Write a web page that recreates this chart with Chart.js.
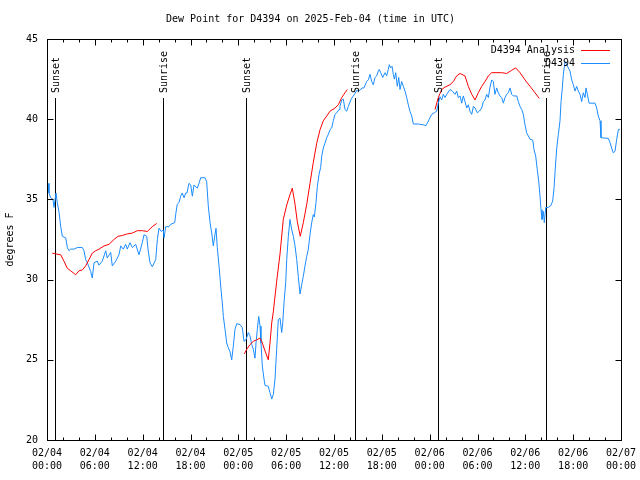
<!DOCTYPE html>
<html><head><meta charset="utf-8">
<script src="https://cdn.jsdelivr.net/npm/chart.js@4/dist/chart.umd.min.js"></script>
<style>html,body{margin:0;padding:0;background:#fff}</style>
</head><body>
<canvas id="c" width="640" height="480"></canvas>
<script>
// hours since 2025-02-04 00:00 UTC
const blueHours = [
0.13,0.25,0.46,0.75,0.88,1.13,1.29,1.51,1.72,1.92,
2.35,2.55,2.76,2.97,3.39,3.80,4.43,4.64,4.85,5.06,
5.48,5.68,5.90,6.31,6.52,6.94,7.36,7.56,7.99,8.19,
8.62,9.03,9.25,9.57,9.87,10.07,10.41,10.70,11.13,11.54,
11.95,12.17,12.51,12.67,12.92,13.21,13.64,13.84,14.05,14.34,
14.59,14.68,14.89,15.30,15.52,16.02,16.14,16.34,16.56,16.77,
16.97,17.19,17.40,17.56,17.81,18.03,18.23,18.44,18.85,19.07,
19.28,19.82,20.03,20.23,20.45,20.66,20.86,21.07,21.20,21.36,
21.58,21.79,21.99,22.12,22.33,22.54,22.74,22.96,23.17,23.37,
23.58,23.80,24.21,24.50,24.71,24.96,25.25,25.46,25.68,25.88,
26.09,26.22,26.38,26.56,26.72,26.84,27.01,27.22,27.35,27.76,
27.97,28.19,28.39,28.60,28.81,29.01,29.23,29.44,29.57,29.73,
29.94,30.07,30.27,30.48,30.70,30.90,31.11,31.32,31.52,31.74,
31.95,32.15,32.36,32.58,32.78,32.99,33.20,33.40,33.53,33.74,
33.91,34.12,34.33,34.46,34.66,34.87,35.09,35.29,35.50,35.71,
35.91,36.13,36.34,36.63,36.75,36.97,37.17,37.38,37.59,37.80,
38.10,38.35,38.63,38.85,39.26,39.51,39.76,40.10,40.30,40.52,
40.73,40.93,41.14,41.36,41.56,41.68,41.86,42.11,42.40,42.61,
42.81,42.94,43.11,43.28,43.44,43.57,43.74,43.94,44.12,44.28,
44.49,44.69,44.91,45.12,45.32,45.53,45.75,45.95,46.58,47.20,
47.54,47.70,47.95,48.26,48.58,48.88,49.08,49.30,49.51,49.71,
49.92,50.14,50.55,50.84,51.18,51.39,51.59,51.81,52.02,52.22,
52.43,52.65,52.85,53.06,53.28,53.48,53.69,53.98,54.23,54.53,
54.73,54.94,55.15,55.36,55.57,55.78,55.98,56.19,56.41,56.61,
56.82,57.04,57.24,57.45,57.66,57.86,58.08,58.29,58.49,58.92,
59.12,59.33,59.55,59.75,59.96,60.17,60.38,60.59,60.93,61.09,
61.30,61.50,61.68,61.84,61.97,62.09,62.26,62.38,62.56,62.88,
63.18,63.43,63.60,63.76,63.94,64.14,64.35,64.48,64.64,64.77,
64.98,65.19,65.39,65.60,65.82,66.02,66.23,66.44,66.64,66.86,
67.07,67.27,67.49,67.61,67.78,67.99,68.74,68.95,69.15,69.37,
69.49,70.41,70.62,70.83,71.03,71.25,71.46,71.67,71.88
];
const blueValues = [
36.0,35.4,35.1,35.0,34.5,35.4,34.8,34.2,33.3,32.7,
32.6,32.0,31.8,31.9,31.9,32.0,32.0,31.8,31.25,31.05,
30.5,30.1,31.05,31.15,30.9,31.15,31.8,31.35,31.7,30.85,
31.15,31.55,32.1,31.9,32.2,31.9,32.3,32.0,32.2,31.55,
32.3,32.8,32.7,31.9,31.05,30.8,31.25,32.5,33.2,33.0,
33.1,32.6,33.3,33.3,33.45,33.55,34.05,34.7,34.8,35.2,
35.4,35.1,35.4,35.4,36.0,35.9,35.2,35.9,35.7,36.0,
36.35,36.35,36.1,34.6,33.55,32.9,32.1,32.8,33.2,32.0,
30.85,29.6,28.55,27.7,26.9,26.05,25.75,25.5,25.0,25.85,
26.9,27.25,27.2,27.0,26.15,26.25,26.7,26.5,25.95,25.65,
25.1,26.05,26.9,27.7,27.1,26.05,24.6,23.8,23.4,23.35,
22.95,22.55,22.85,23.8,25.65,27.5,27.6,26.7,27.3,28.55,
29.8,31.25,32.7,33.75,33.1,32.7,32.1,31.25,30.2,29.1,
29.7,30.2,30.85,31.45,31.9,32.8,33.55,34.05,33.9,34.8,
35.8,36.55,37.0,37.7,38.2,38.5,38.85,39.05,39.35,39.45,
39.9,40.3,40.4,40.6,40.8,41.2,41.25,40.6,40.5,40.8,
41.2,41.4,41.6,41.8,41.8,41.95,41.95,42.35,42.45,42.8,
42.35,42.15,42.6,42.7,43.0,43.1,42.9,42.6,42.9,42.7,
43.1,43.4,43.2,43.3,42.8,42.5,42.9,42.05,42.6,41.85,
42.35,42.05,41.75,41.35,40.9,40.5,40.2,39.7,39.7,39.65,
39.6,39.75,40.0,40.3,40.4,40.5,41.0,41.4,41.2,41.55,
41.35,41.55,41.85,41.75,41.55,41.75,41.35,41.45,41.0,41.45,
41.1,40.7,40.9,40.5,40.3,40.8,40.7,40.4,40.5,40.7,
41.1,41.2,41.55,41.35,42.0,42.45,42.35,41.55,41.95,41.65,
41.45,41.35,41.0,41.35,41.55,41.65,41.95,41.55,41.45,41.45,
41.1,40.8,40.6,40.3,39.65,39.15,38.95,38.75,38.7,38.1,
37.7,36.85,36.15,35.2,34.35,33.75,34.25,33.55,34.5,34.5,
34.6,34.9,35.7,36.95,38.2,39.05,39.9,41.1,41.95,42.8,
43.6,43.4,43.2,43.0,42.45,42.15,41.75,42.05,41.75,41.55,
41.1,41.65,41.35,41.95,41.55,41.0,41.0,40.7,40.2,39.9,
38.85,38.8,38.55,38.2,37.9,38.0,38.75,39.35,39.35
];
const redHours = [
0.66,1.09,1.72,2.13,2.55,2.97,3.60,4.01,4.43,4.85,
5.27,5.68,6.11,6.52,7.15,7.78,8.40,8.91,9.45,10.07,
10.70,11.33,11.95,12.58,13.21,13.76,
19.0,
24.75,25.05,25.46,25.88,26.30,26.72,26.93,27.35,27.76,27.97,
28.19,28.39,28.81,29.23,29.64,30.07,30.48,30.77,31.11,31.40,
31.77,32.15,32.58,32.99,33.40,33.83,34.25,34.66,35.09,35.50,
36.13,36.54,36.97,37.38,37.67,
43.0,
48.67,49.08,49.51,49.92,50.55,50.97,51.39,51.81,52.43,52.85,
53.28,53.69,54.10,54.53,54.94,55.36,55.78,57.04,57.66,58.29,
58.79,59.33,59.96,60.59,61.21,61.75
];
const redValues = [
31.65,31.6,31.55,31.15,30.7,30.55,30.3,30.55,30.6,30.85,
31.25,31.65,31.8,31.9,32.1,32.2,32.5,32.7,32.75,32.85,
32.9,33.05,33.05,33.0,33.3,33.5,
null,
25.37,25.65,25.95,26.15,26.25,26.35,26.15,25.55,25.0,26.05,
27.3,28.0,29.9,31.6,33.75,34.65,35.3,35.7,34.7,33.6,
32.7,33.55,34.7,36.0,37.3,38.5,39.35,39.9,40.2,40.5,
40.7,40.9,41.35,41.65,41.85,
null,
40.6,41.35,41.85,42.0,42.15,42.35,42.7,42.85,42.7,42.05,
41.55,41.2,41.65,42.05,42.35,42.7,42.9,42.9,42.85,43.05,
43.2,42.9,42.45,42.05,41.65,41.3
];
const sunHours = [1.0, 14.55, 24.96, 38.63, 49.05, 62.59];
const sunLabels = ["Sunset","Sunrise","Sunset","Sunrise","Sunset","Sunrise"];
const xTickHours = [0,6,12,18,24,30,36,42,48,54,60,66,72];
const yTickValues = [20,25,30,35,40,45];
const seriesNames = ["D4394 Analysis","D4394"];
const titleText = "Dew Point for D4394 on 2025-Feb-04 (time in UTC)";
const yAxisTitle = "degrees F";

const RED = '#ff0000', BLUE = '#1a8cff';
const MONO = '"DejaVu Sans Mono", "Liberation Mono", monospace';
const sunLineTop = 41.3;

function fmtHour(h){
  const day = 4 + Math.floor(h/24);
  const hh = h % 24;
  return ['02/' + String(day).padStart(2,'0'), String(hh).padStart(2,'0') + ':00'];
}

const decor = {
  id: 'decor',
  beforeDatasetsDraw(chart){
    const {ctx, chartArea:a, scales:{x, y}} = chart;
    ctx.save();
    ctx.strokeStyle = '#000'; ctx.lineWidth = 1;
    sunHours.forEach(h => {
      const px = Math.round(x.getPixelForValue(h)) + 0.5;
      ctx.beginPath();
      ctx.moveTo(px, Math.round(y.getPixelForValue(sunLineTop)));
      ctx.lineTo(px, a.bottom);
      ctx.stroke();
    });
    ctx.restore();
  },
  afterDatasetsDraw(chart){
    const {ctx, chartArea:a, scales:{x, y}} = chart;
    ctx.save();
    ctx.strokeStyle = '#000'; ctx.lineWidth = 1;
    const L = Math.round(a.left) + 0.5, R = Math.round(a.right) + 0.5;
    const T = Math.round(a.top) + 0.5, B = Math.round(a.bottom) + 0.5;
    ctx.strokeRect(L, T, R - L, B - T);
    ctx.beginPath();
    for (let h = 0; h <= 72; h += 2) {
      const px = Math.round(x.getPixelForValue(h)) + 0.5;
      const len = (h % 6 === 0) ? 6 : 3;
      ctx.moveTo(px, B); ctx.lineTo(px, B - len);
      ctx.moveTo(px, T); ctx.lineTo(px, T + len);
    }
    yTickValues.forEach(v => {
      const py = Math.round(y.getPixelForValue(v)) + 0.5;
      ctx.moveTo(L, py); ctx.lineTo(L + 6, py);
      ctx.moveTo(R, py); ctx.lineTo(R - 6, py);
    });
    ctx.stroke();
    ctx.fillStyle = '#000';
    ctx.font = '10px ' + MONO;
    sunHours.forEach((h, i) => {
      const px = Math.round(x.getPixelForValue(h)) + 1;
      ctx.save();
      ctx.translate(px, 93);
      ctx.rotate(-Math.PI/2);
      ctx.textAlign = 'left'; ctx.textBaseline = 'middle';
      ctx.fillText(sunLabels[i], 0, 0);
      ctx.restore();
    });
    const colors = [RED, BLUE];
    seriesNames.forEach((name, i) => {
      const ly = 50 + i * 13;
      ctx.fillStyle = '#000';
      ctx.textAlign = 'right'; ctx.textBaseline = 'middle';
      ctx.fillText(name, 575, ly);
      ctx.strokeStyle = colors[i];
      ctx.beginPath();
      ctx.moveTo(581, ly + 0.5); ctx.lineTo(610, ly + 0.5);
      ctx.stroke();
    });
    ctx.restore();
  }
};

const toPts = (hs, vs) => hs.map((h, i) => ({x: h, y: vs[i]}));

new Chart(document.getElementById('c'), {
  type: 'line',
  data: {
    datasets: [
      {label: seriesNames[0], data: toPts(redHours, redValues), borderColor: RED, borderWidth: 1, pointRadius: 0, tension: 0, spanGaps: false},
      {label: seriesNames[1], data: toPts(blueHours, blueValues), borderColor: BLUE, borderWidth: 1, pointRadius: 0, tension: 0, spanGaps: false}
    ]
  },
  options: {
    responsive: false, animation: false, devicePixelRatio: 1,
    layout: {padding: {left: 0, right: 19, top: 0, bottom: 0}, autoPadding: false},
    plugins: {
      legend: {display: false}, tooltip: {enabled: false},
      title: {display: true, text: titleText, color: '#000',
        font: {family: MONO, size: 10, weight: 'normal', lineHeight: 1.2},
        padding: {top: 13, bottom: 14}}
    },
    scales: {
      x: {
        type: 'linear', min: 0, max: 72,
        afterFit(s){ s.height = 40; s.paddingLeft = 0; s.paddingRight = 0; },
        afterBuildTicks(s){ s.ticks = xTickHours.map(v => ({value: v})); },
        grid: {display: false, drawTicks: false}, border: {display: false},
        ticks: {autoSkip: false, maxRotation: 0, minRotation: 0, padding: 6.5, color: '#000',
          font: {family: MONO, size: 10, lineHeight: 1.3}, callback: v => fmtHour(v)}
      },
      y: {
        min: 20, max: 45,
        afterFit(s){ s.width = 47; s.paddingTop = 0; s.paddingBottom = 0; },
        afterBuildTicks(s){ s.ticks = yTickValues.map(v => ({value: v})); },
        grid: {display: false, drawTicks: false}, border: {display: false},
        ticks: {padding: 9, color: '#000', font: {family: MONO, size: 10}},
        title: {display: true, text: yAxisTitle, color: '#000', font: {family: MONO, size: 10, lineHeight: 1.2}, padding: {top: 4, bottom: 0}}
      }
    }
  },
  plugins: [decor]
});
</script>
</body></html>
